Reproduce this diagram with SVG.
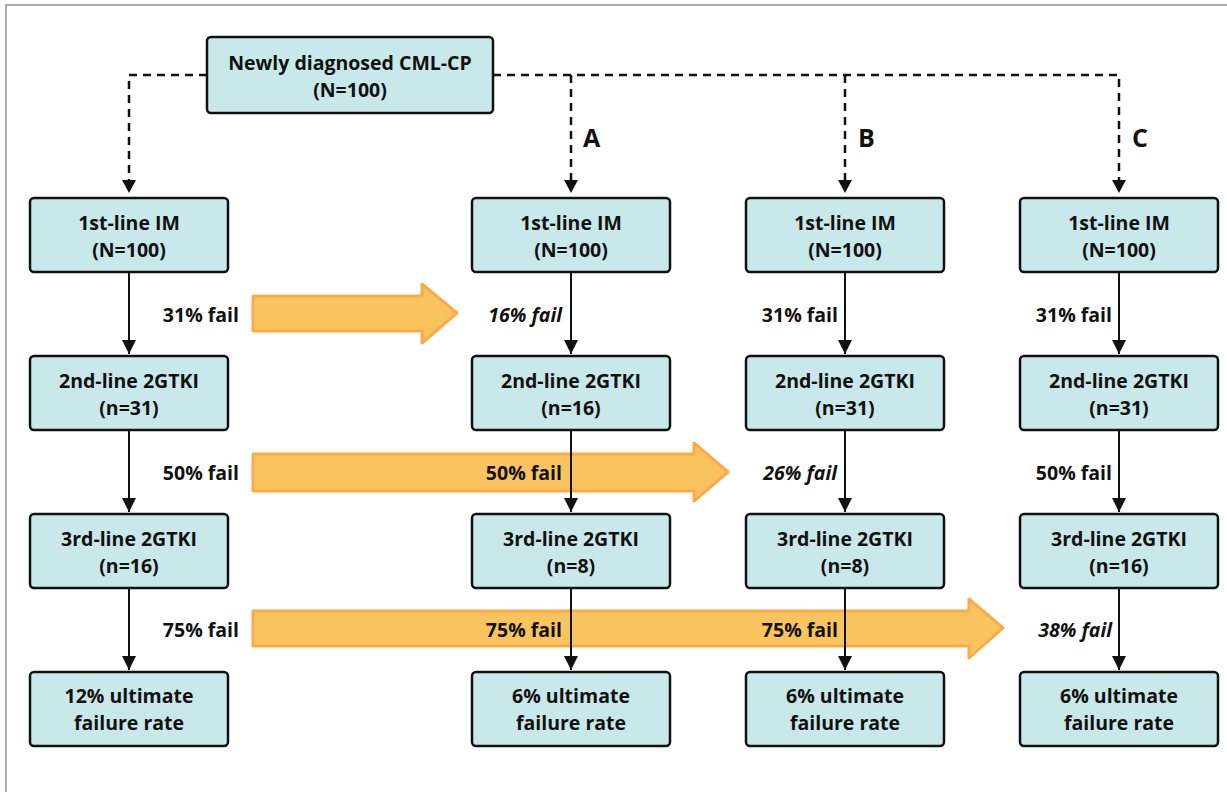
<svg xmlns="http://www.w3.org/2000/svg" width="1227" height="792" viewBox="0 0 1227 792">
<style>
.box{fill:#C9E8E9;stroke:#111;stroke-width:2.5}
.t{font-family:"Open Sans","Liberation Sans",sans-serif;font-weight:700;font-size:19.5px;fill:#111;text-anchor:middle}
.f{font-family:"Open Sans","Liberation Sans",sans-serif;font-weight:700;font-size:19.5px;fill:#111;text-anchor:end}
.i{font-style:italic}
.L{font-family:"Open Sans","Liberation Sans",sans-serif;font-weight:700;font-size:25px;fill:#111}
.sol{stroke:#111;stroke-width:2;fill:none}
.dash{stroke:#111;stroke-width:2.5;fill:none;stroke-dasharray:8,6}
.big{fill:#F9C45E;stroke:#FBAA4A;stroke-width:3;stroke-linejoin:round}
</style>
<defs>
<marker id="ah2" viewBox="0 0 10 10" refX="10" refY="5" markerWidth="14" markerHeight="14" markerUnits="userSpaceOnUse" orient="auto">
<path d="M0,0 L10,5 L0,10 z" fill="#111"/>
</marker>
</defs>
<rect x="0" y="0" width="1227" height="792" fill="#fff"/>
<rect x="6" y="5" width="1240" height="810" fill="none" stroke="#ABABAB" stroke-width="2"/>

<g id="bigarrows">
<path class="big" d="M253,296 L422,296 L422,284 L457,313 L422,343 L422,331 L253,331 z"/>
<path class="big" d="M253,454 L694,454 L694,443 L728,472 L694,501 L694,491 L253,491 z"/>
<path class="big" d="M253,611 L969,611 L969,599 L1003,628 L969,658 L969,646 L253,646 z"/>
</g>

<g id="connectors">
<path class="dash" d="M207,75 H129 V183"/>
<path class="dash" d="M493,75 H1119 V183"/>
<path class="dash" d="M571,75 V183"/>
<path class="dash" d="M845,75 V183"/>
<path d="M122,180 L136,180 L129,193 z" fill="#111"/>
<path d="M564,180 L578,180 L571,193 z" fill="#111"/>
<path d="M838,180 L852,180 L845,193 z" fill="#111"/>
<path d="M1112,180 L1126,180 L1119,193 z" fill="#111"/>
<g class="sol">
<path d="M129,272 V354" marker-end="url(#ah2)"/>
<path d="M129,430 V512" marker-end="url(#ah2)"/>
<path d="M129,588 V670" marker-end="url(#ah2)"/>
<path d="M571,272 V354" marker-end="url(#ah2)"/>
<path d="M571,430 V512" marker-end="url(#ah2)"/>
<path d="M571,588 V670" marker-end="url(#ah2)"/>
<path d="M845,272 V354" marker-end="url(#ah2)"/>
<path d="M845,430 V512" marker-end="url(#ah2)"/>
<path d="M845,588 V670" marker-end="url(#ah2)"/>
<path d="M1119,272 V354" marker-end="url(#ah2)"/>
<path d="M1119,430 V512" marker-end="url(#ah2)"/>
<path d="M1119,588 V670" marker-end="url(#ah2)"/>
</g>
</g>

<g id="top"><rect class="box" x="207" y="37" width="286" height="76" rx="4"/>
<text class="t" x="350" y="70">Newly diagnosed CML-CP</text><text class="t" x="350" y="97">(N=100)</text></g>

<g id="labels">
<text class="L" x="583" y="147">A</text>
<text class="L" x="858" y="147">B</text>
<text class="L" x="1132" y="147">C</text>
</g>

<g id="c1r1"><rect class="box" x="30" y="198" width="198" height="74" rx="4"/><text class="t" x="129" y="230">1st-line IM</text><text class="t" x="129" y="257">(N=100)</text></g>
<g id="c1r2"><rect class="box" x="30" y="356" width="198" height="74" rx="4"/><text class="t" x="129" y="388">2nd-line 2GTKI</text><text class="t" x="129" y="415">(n=31)</text></g>
<g id="c1r3"><rect class="box" x="30" y="514" width="198" height="74" rx="4"/><text class="t" x="129" y="546">3rd-line 2GTKI</text><text class="t" x="129" y="573">(n=16)</text></g>
<g id="c1r4"><rect class="box" x="30" y="672" width="198" height="74" rx="4"/><text class="t" x="129" y="703">12% ultimate</text><text class="t" x="129" y="730">failure rate</text></g>

<g id="c2r1"><rect class="box" x="472" y="198" width="198" height="74" rx="4"/><text class="t" x="571" y="230">1st-line IM</text><text class="t" x="571" y="257">(N=100)</text></g>
<g id="c2r2"><rect class="box" x="472" y="356" width="198" height="74" rx="4"/><text class="t" x="571" y="388">2nd-line 2GTKI</text><text class="t" x="571" y="415">(n=16)</text></g>
<g id="c2r3"><rect class="box" x="472" y="514" width="198" height="74" rx="4"/><text class="t" x="571" y="546">3rd-line 2GTKI</text><text class="t" x="571" y="573">(n=8)</text></g>
<g id="c2r4"><rect class="box" x="472" y="672" width="198" height="74" rx="4"/><text class="t" x="571" y="703">6% ultimate</text><text class="t" x="571" y="730">failure rate</text></g>

<g id="c3r1"><rect class="box" x="746" y="198" width="198" height="74" rx="4"/><text class="t" x="845" y="230">1st-line IM</text><text class="t" x="845" y="257">(N=100)</text></g>
<g id="c3r2"><rect class="box" x="746" y="356" width="198" height="74" rx="4"/><text class="t" x="845" y="388">2nd-line 2GTKI</text><text class="t" x="845" y="415">(n=31)</text></g>
<g id="c3r3"><rect class="box" x="746" y="514" width="198" height="74" rx="4"/><text class="t" x="845" y="546">3rd-line 2GTKI</text><text class="t" x="845" y="573">(n=8)</text></g>
<g id="c3r4"><rect class="box" x="746" y="672" width="198" height="74" rx="4"/><text class="t" x="845" y="703">6% ultimate</text><text class="t" x="845" y="730">failure rate</text></g>

<g id="c4r1"><rect class="box" x="1020" y="198" width="198" height="74" rx="4"/><text class="t" x="1119" y="230">1st-line IM</text><text class="t" x="1119" y="257">(N=100)</text></g>
<g id="c4r2"><rect class="box" x="1020" y="356" width="198" height="74" rx="4"/><text class="t" x="1119" y="388">2nd-line 2GTKI</text><text class="t" x="1119" y="415">(n=31)</text></g>
<g id="c4r3"><rect class="box" x="1020" y="514" width="198" height="74" rx="4"/><text class="t" x="1119" y="546">3rd-line 2GTKI</text><text class="t" x="1119" y="573">(n=16)</text></g>
<g id="c4r4"><rect class="box" x="1020" y="672" width="198" height="74" rx="4"/><text class="t" x="1119" y="703">6% ultimate</text><text class="t" x="1119" y="730">failure rate</text></g>

<g id="fails">
<text class="f" x="239" y="322">31% fail</text>
<text class="f i" x="562" y="322">16% fail</text>
<text class="f" x="838" y="322">31% fail</text>
<text class="f" x="1112" y="322">31% fail</text>
<text class="f" x="239" y="480">50% fail</text>
<text class="f" x="562" y="480">50% fail</text>
<text class="f i" x="837" y="480">26% fail</text>
<text class="f" x="1112" y="480">50% fail</text>
<text class="f" x="239" y="637">75% fail</text>
<text class="f" x="562" y="637">75% fail</text>
<text class="f" x="838" y="637">75% fail</text>
<text class="f i" x="1112" y="637">38% fail</text>
</g>
</svg>
